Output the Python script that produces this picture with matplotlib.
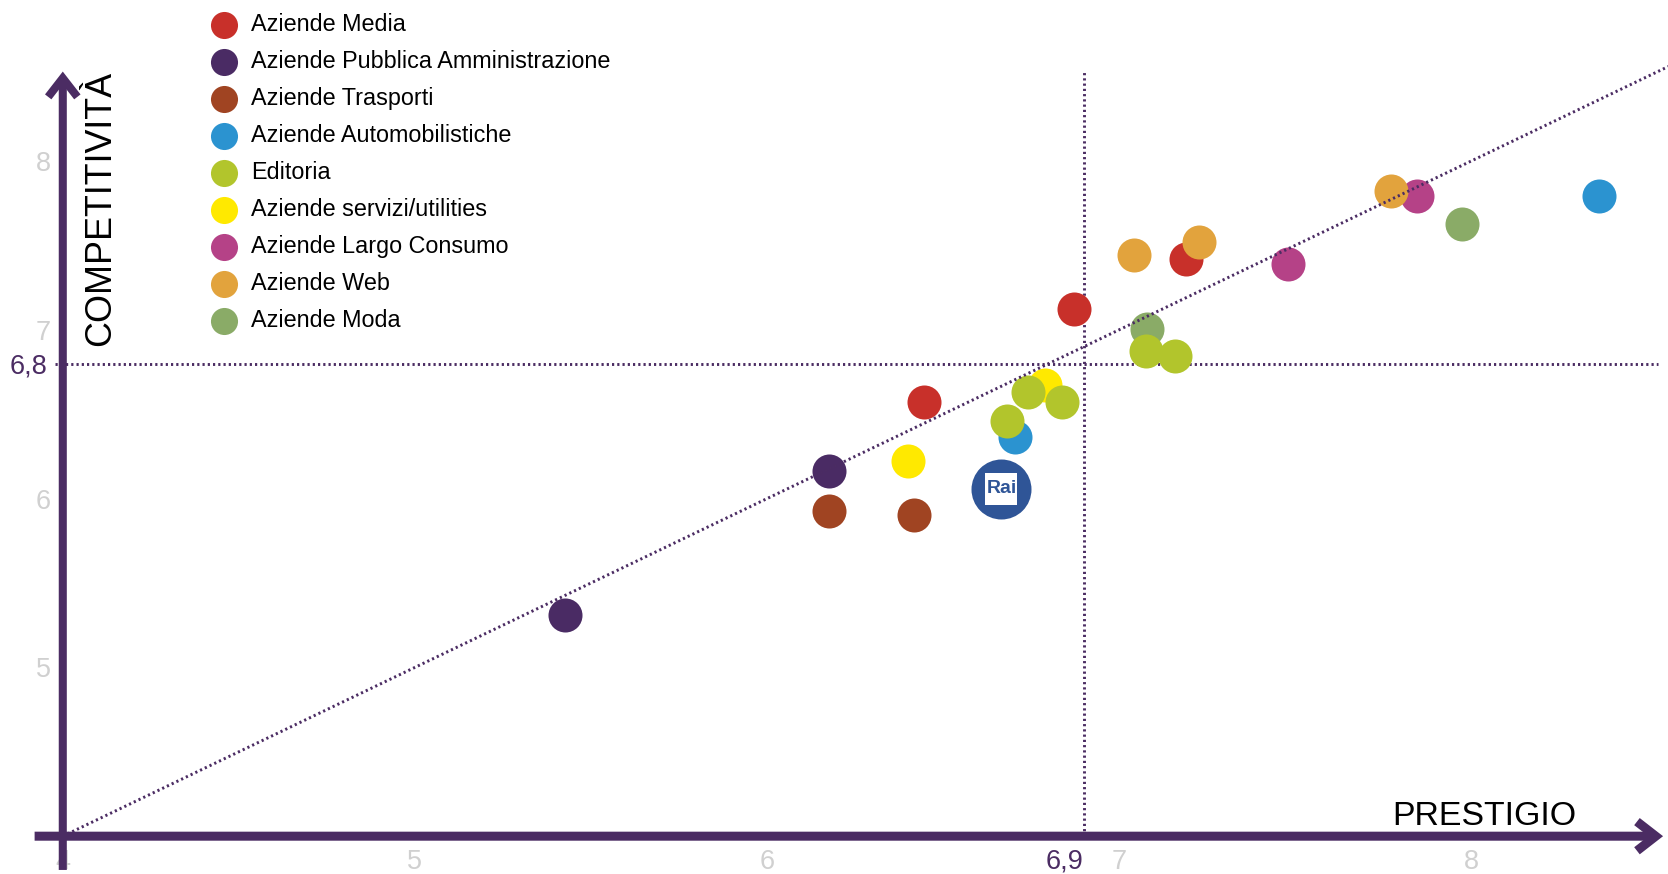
import matplotlib.pyplot as plt
import matplotlib.transforms as mtransforms

plt.rcParams['font.family'] = ['Liberation Sans', 'DejaVu Sans']

# dati (prestigio, competitività)
media_x = [6.872, 6.447, 7.189]
media_y = [7.121, 6.571, 7.421]
pa_x = [6.175, 5.425]
pa_y = [6.162, 5.309]
trasporti_x = [6.175, 6.417]
trasporti_y = [5.928, 5.903]
auto_x = [6.704, 8.364]
auto_y = [6.367, 7.793]
editoria_x = [6.683, 6.741, 6.838, 7.076, 7.158]
editoria_y = [6.458, 6.633, 6.571, 6.876, 6.845]
servizi_x = [6.790, 6.400]
servizi_y = [6.673, 6.225]
consumo_x = [7.479, 7.845]
consumo_y = [7.390, 7.793]
web_x = [7.042, 7.227, 7.771]
web_y = [7.441, 7.520, 7.824]
moda_x = [7.078, 7.973]
moda_y = [7.003, 7.625]
rai_x = [6.666]
rai_y = [6.057]

media_prestigio = 6.9
media_competitivita = 6.8
trend = [4, 8.56]

x_ticks = [4, 5, 6, 7, 8]
y_ticks = [5, 6, 7, 8]

viola = '#4b2c63'
grigio = '#d0d0d0'
blu_rai = '#2f5597'

# (etichetta, colore, x, y, ordine di disegno)
gruppi = [
    ('Aziende Media', '#c8302a', media_x, media_y, 3),
    ('Aziende Pubblica Amministrazione', '#4a2b64', pa_x, pa_y, 3),
    ('Aziende Trasporti', '#a04422', trasporti_x, trasporti_y, 3),
    ('Aziende Automobilistiche', '#2b93d0', auto_x, auto_y, 3),
    ('Editoria', '#b2c52c', editoria_x, editoria_y, 6),
    ('Aziende servizi/utilities', '#ffe900', servizi_x, servizi_y, 3),
    ('Aziende Largo Consumo', '#b54287', consumo_x, consumo_y, 4),
    ('Aziende Web', '#e2a33d', web_x, web_y, 5),
    ('Aziende Moda', '#8aab67', moda_x, moda_y, 5),
]

fig = plt.figure(figsize=(16.68, 8.74), dpi=100)
ax = fig.add_axes([0, 0, 1, 1])
ax.set_xlim(3.8217, 8.559)
ax.set_ylim(3.776, 8.954)
ax.axis('off')

punti = (0, (0.75, 1.05))

# linee di riferimento
ax.plot([media_prestigio, media_prestigio], [4, 8.53], color=viola, lw=2.1,
        linestyle=punti, zorder=2)
ax.plot([3.978, 8.53], [media_competitivita, media_competitivita], color=viola,
        lw=2.1, linestyle=punti, zorder=2)

for nome, col, xs, ys, z in gruppi:
    ax.scatter(xs, ys, s=600, color=col, linewidths=0, zorder=z)

# Rai
ax.scatter(rai_x, rai_y, s=1866, color=blu_rai, linewidths=0, zorder=7)
ax.scatter(rai_x, rai_y, s=520, marker='s', color='white', linewidths=0, zorder=8)
ax.text(rai_x[0], rai_y[0], 'Rai', color=blu_rai, fontsize=14,
        fontweight='bold', ha='center', va='center', zorder=9)

# retta di tendenza
ax.plot(trend, trend, color=viola, lw=2.1, linestyle=punti, zorder=10)

# assi con frecce
freccia = dict(arrowstyle='->,head_length=1.35,head_width=1.05', color=viola,
               shrinkA=0, shrinkB=0, mutation_scale=10, capstyle='butt',
               joinstyle='miter')
ax.annotate('', xy=(8.545, 4.0), xytext=(3.92, 4.0),
            arrowprops=dict(freccia, lw=6.5), zorder=11)
ax.annotate('', xy=(4.0, 8.53), xytext=(4.0, 3.80),
            arrowprops=dict(freccia, lw=5.8), zorder=12)

# etichette dei tick
tx = mtransforms.blended_transform_factory(ax.transData, ax.transAxes)
ty = mtransforms.blended_transform_factory(ax.transAxes, ax.transData)
for v in x_ticks:
    ax.text(v, 0.0141, str(v), transform=tx, color=grigio, fontsize=19.5,
            ha='center', va='center', zorder=1)
for v in y_ticks:
    ax.text(0.0258, v, str(v), transform=ty, color=grigio, fontsize=19.5,
            ha='center', va='center_baseline', zorder=1)
ax.text(media_prestigio, 0.0141, '6,9', transform=tx, color=viola,
        fontsize=19.5, ha='right', va='center')
ax.text(0.0282, media_competitivita, '6,8', transform=ty, color=viola,
        fontsize=19.5, ha='right', va='center_baseline')

# titoli assi
ax.text(0.8345, 0.0561, 'PRESTIGIO', transform=ax.transAxes, fontsize=24.4,
        ha='left', va='baseline', color='black')
ax.text(0.0663, 0.6045, 'COMPETITIVITÀ', transform=ax.transAxes, fontsize=25.8,
        rotation=90, rotation_mode='anchor', ha='left', va='baseline',
        color='black')

# legenda
y0 = 0.9715
passo = 0.04233
for i, (nome, col, xs, ys, z) in enumerate(gruppi):
    y = y0 - i * passo
    ax.scatter([0.134], [y], s=380, color=col, linewidths=0,
               transform=ax.transAxes, zorder=5, clip_on=False)
    ax.text(0.1505, y, nome, transform=ax.transAxes, fontsize=16.8,
            ha='left', va='center', color='black')

fig.savefig('out.png', dpi=100)
